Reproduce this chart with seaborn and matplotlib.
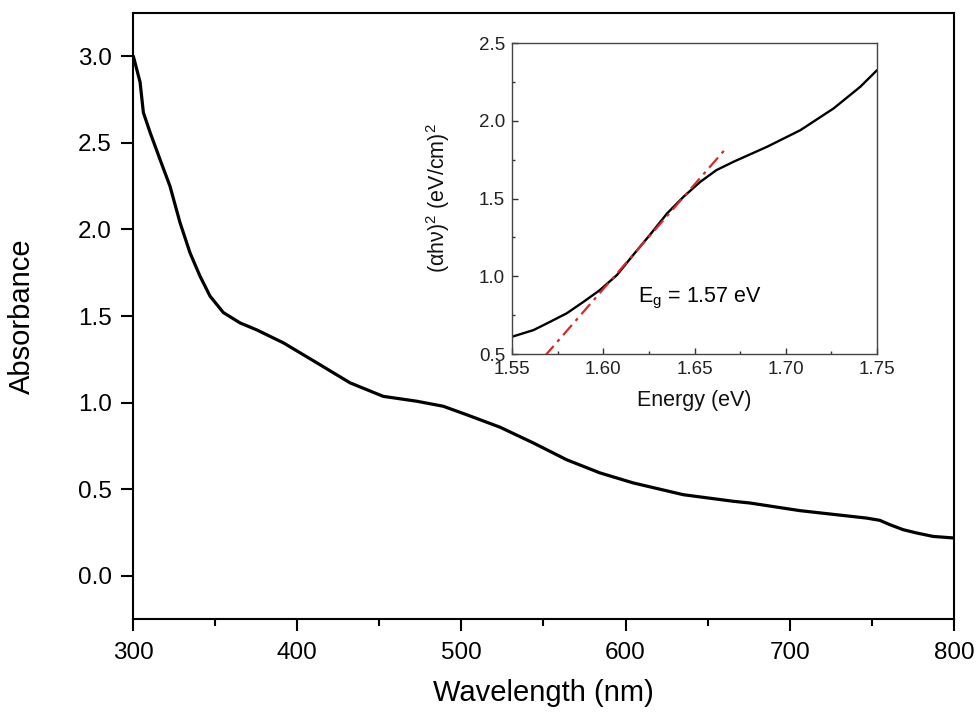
import numpy as np
import pandas as pd
import matplotlib
matplotlib.use("Agg")
import matplotlib.pyplot as plt
import seaborn as sns

# Main spectrum: absorbance vs wavelength
wavelength = [300.2, 304.3, 306.3, 310.4, 316.4, 322.5, 328.6, 334.7, 340.8, 346.9,
              355, 365.2, 375.3, 391.6, 411.9, 432.2, 452.4, 472.7, 488.9, 503.2,
              523.5, 543.8, 564.1, 584.4, 604.7, 635.2, 665.6, 675.8, 706.2, 726,
              746.8, 754.9, 761, 769.1, 777.3, 787.4, 800]
absorbance = [3.00, 2.85, 2.675, 2.56, 2.405, 2.25, 2.04, 1.865, 1.73, 1.615,
              1.52, 1.46, 1.42, 1.345, 1.23, 1.114, 1.036, 1.008, 0.979, 0.93,
              0.858, 0.767, 0.67, 0.594, 0.536, 0.468, 0.43, 0.42, 0.376, 0.355,
              0.333, 0.32, 0.295, 0.266, 0.247, 0.227, 0.218]

# Inset: Tauc plot
energy = [1.55, 1.5618, 1.571, 1.580, 1.5892, 1.598, 1.6075, 1.6166, 1.6258, 1.635,
          1.644, 1.6532, 1.662, 1.6714, 1.6897, 1.708, 1.7262, 1.7408, 1.75]
tauc = [0.611, 0.654, 0.708, 0.762, 0.836, 0.91, 1.008, 1.14, 1.27, 1.405,
        1.512, 1.608, 1.683, 1.737, 1.833, 1.94, 2.08, 2.219, 2.326]

# Linear fit line (endpoints)
fit_energy = [1.568, 1.668]
fit_tauc = [0.487, 1.833]

main_xticks = [300, 400, 500, 600, 700, 800]
main_yticks = [0.0, 0.5, 1.0, 1.5, 2.0, 2.5, 3.0]
inset_xticks = [1.55, 1.60, 1.65, 1.70, 1.75]
inset_yticks = [0.5, 1.0, 1.5, 2.0, 2.5]

sns.set_style("ticks")
plt.rcParams['font.family'] = ['Liberation Sans', 'DejaVu Sans']
plt.rcParams['mathtext.fontset'] = 'custom'
plt.rcParams['mathtext.rm'] = 'Liberation Sans'
plt.rcParams['mathtext.it'] = 'Liberation Sans:italic'
plt.rcParams['text.color'] = 'black'
plt.rcParams['axes.labelcolor'] = 'black'
plt.rcParams['xtick.color'] = 'black'
plt.rcParams['ytick.color'] = 'black'

fig = plt.figure(figsize=(9.76, 7.13), dpi=100)
ax = fig.add_axes([0.1363, 0.1318, 0.841, 0.850])

df_main = pd.DataFrame({"wl": wavelength, "abs": absorbance})
sns.lineplot(data=df_main, x="wl", y="abs", ax=ax, color="black", lw=2.3, sort=True)
ax.set_xlim(300, 800)
ax.set_ylim(-0.25, 3.25)
ax.set_xticks(main_xticks)
ax.set_xticks([350, 450, 550, 650, 750], minor=True)
ax.set_yticks(main_yticks)
ax.set_yticklabels([f"{v:.1f}" for v in main_yticks])
ax.tick_params(axis='both', which='major', direction='out', length=8.5, width=1.5,
               labelsize=17.5, pad=7, color='black', labelcolor='black')
ax.tick_params(axis='x', which='major', pad=8)
ax.tick_params(axis='x', which='minor', direction='out', length=5, width=1.5, color='black')
for s in ax.spines.values():
    s.set_visible(True)
    s.set_linewidth(1.5)
    s.set_color('black')
ax.set_xlabel("Wavelength (nm)", fontsize=21, labelpad=11, color='black')
ax.set_ylabel("Absorbance", fontsize=21, labelpad=30, color='black')

# Inset
axi = fig.add_axes([0.5246, 0.5035, 0.374, 0.436])
df_in = pd.DataFrame({"E": energy, "T": tauc})
sns.lineplot(data=df_in, x="E", y="T", ax=axi, color="black", lw=1.7, sort=True)
df_fit = pd.DataFrame({"E": fit_energy, "T": fit_tauc})
sns.lineplot(data=df_fit, x="E", y="T", ax=axi, color="#d42a2a", lw=1.6, sort=True,
             linestyle=(0, (6, 2.5, 1.5, 2.5)))
axi.set_xlim(1.55, 1.75)
axi.set_ylim(0.5, 2.5)
axi.set_xticks(inset_xticks)
axi.set_xticklabels([f"{v:.2f}" for v in inset_xticks])
axi.set_xticks([1.575, 1.625, 1.675, 1.725], minor=True)
axi.set_yticks(inset_yticks)
axi.set_yticklabels([f"{v:.1f}" for v in inset_yticks])
axi.set_yticks([0.75, 1.25, 1.75, 2.25], minor=True)
axi.tick_params(axis='both', which='major', direction='in', length=4, width=1,
                labelsize=13.5, pad=5, color='#333333', labelcolor='#222222')
axi.tick_params(axis='both', which='minor', direction='in', length=2.5, width=1, color='#333333')
for s in axi.spines.values():
    s.set_visible(True)
    s.set_linewidth(1.0)
    s.set_color('#444444')
axi.set_xlabel("Energy (eV)", fontsize=15.5, labelpad=9, color='#111111')
axi.set_ylabel("(\u03b1h\u03bd)$^{\\mathrm{2}}$ (eV/cm)$^{\\mathrm{2}}$", fontsize=15.5,
               labelpad=19, color='#111111')
axi.text(1.619, 0.83, "E$_{\\mathrm{g}}$ = 1.57 eV", fontsize=15.5, ha='left', va='baseline',
         color='black')

fig.savefig("out.png", dpi=100)
